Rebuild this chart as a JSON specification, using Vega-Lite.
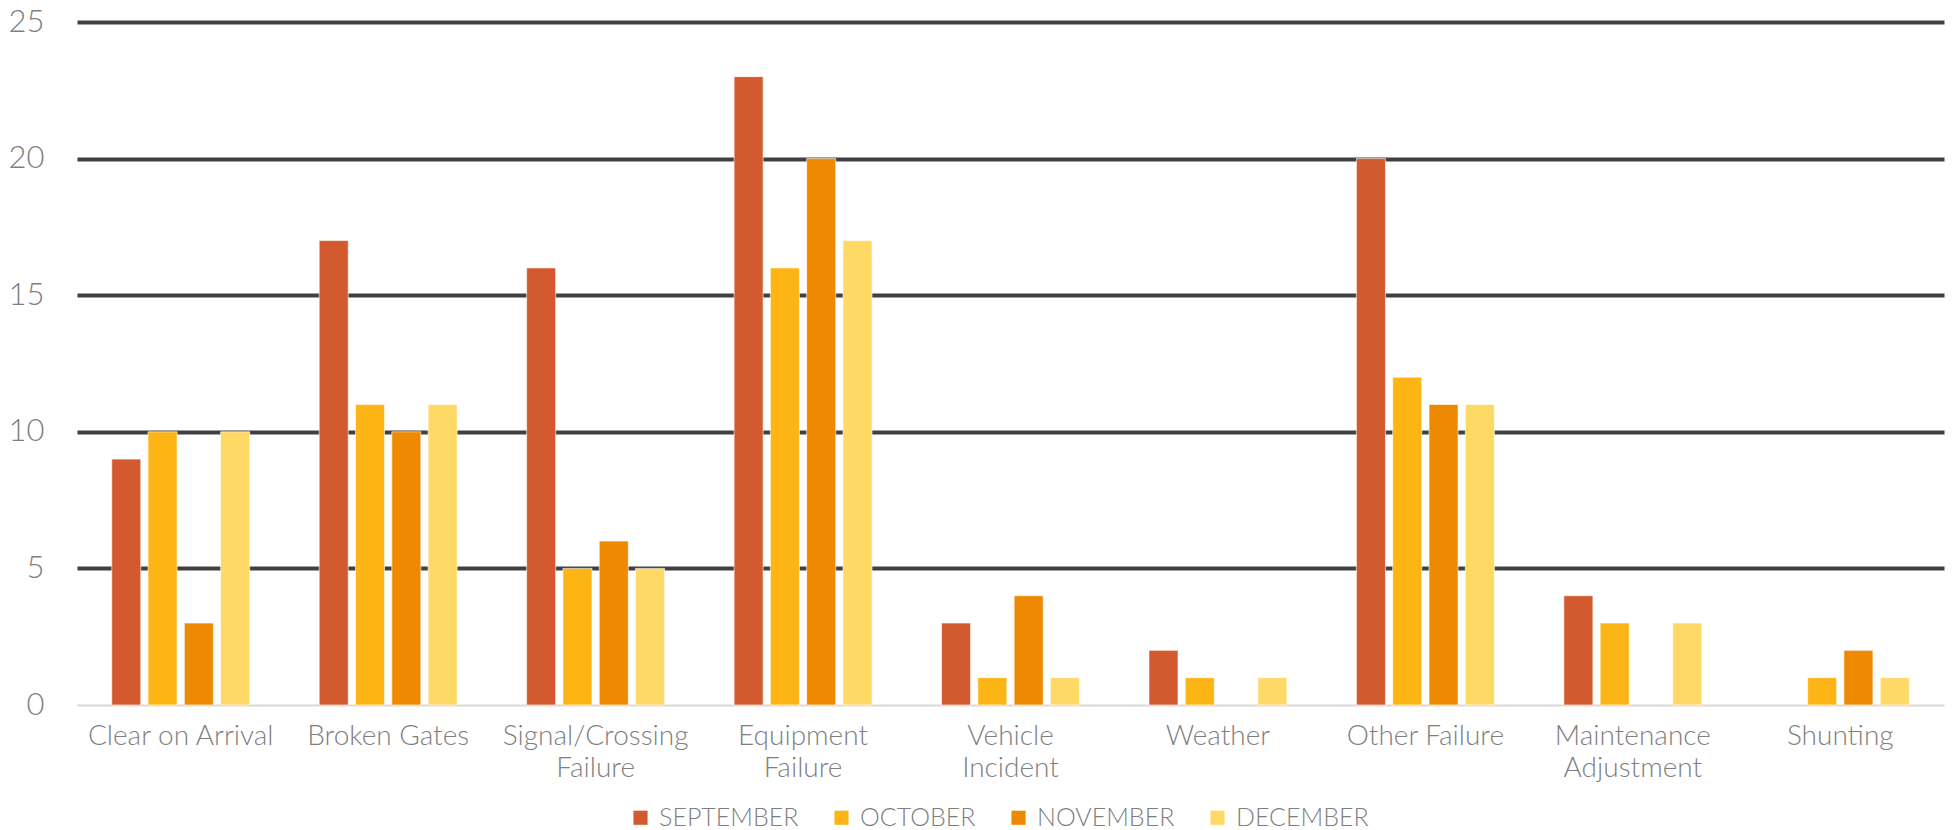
{
  "$schema": "https://vega.github.io/schema/vega-lite/v6.json",
  "autosize": {"type": "none"},
  "width": 1867,
  "height": 683,
  "padding": {"left": 77, "top": 22, "right": 10, "bottom": 125},
  "background": "#ffffff",
  "config": {
    "view": {"stroke": null},
    "font": "Lato"
  },
  "data": {
    "values": [
      {"category": "Clear on Arrival", "month": "SEPTEMBER", "count": 9},
      {"category": "Clear on Arrival", "month": "OCTOBER", "count": 10},
      {"category": "Clear on Arrival", "month": "NOVEMBER", "count": 3},
      {"category": "Clear on Arrival", "month": "DECEMBER", "count": 10},
      {"category": "Broken Gates", "month": "SEPTEMBER", "count": 17},
      {"category": "Broken Gates", "month": "OCTOBER", "count": 11},
      {"category": "Broken Gates", "month": "NOVEMBER", "count": 10},
      {"category": "Broken Gates", "month": "DECEMBER", "count": 11},
      {"category": "Signal/Crossing Failure", "month": "SEPTEMBER", "count": 16},
      {"category": "Signal/Crossing Failure", "month": "OCTOBER", "count": 5},
      {"category": "Signal/Crossing Failure", "month": "NOVEMBER", "count": 6},
      {"category": "Signal/Crossing Failure", "month": "DECEMBER", "count": 5},
      {"category": "Equipment Failure", "month": "SEPTEMBER", "count": 23},
      {"category": "Equipment Failure", "month": "OCTOBER", "count": 16},
      {"category": "Equipment Failure", "month": "NOVEMBER", "count": 20},
      {"category": "Equipment Failure", "month": "DECEMBER", "count": 17},
      {"category": "Vehicle Incident", "month": "SEPTEMBER", "count": 3},
      {"category": "Vehicle Incident", "month": "OCTOBER", "count": 1},
      {"category": "Vehicle Incident", "month": "NOVEMBER", "count": 4},
      {"category": "Vehicle Incident", "month": "DECEMBER", "count": 1},
      {"category": "Weather", "month": "SEPTEMBER", "count": 2},
      {"category": "Weather", "month": "OCTOBER", "count": 1},
      {"category": "Weather", "month": "DECEMBER", "count": 1},
      {"category": "Other Failure", "month": "SEPTEMBER", "count": 20},
      {"category": "Other Failure", "month": "OCTOBER", "count": 12},
      {"category": "Other Failure", "month": "NOVEMBER", "count": 11},
      {"category": "Other Failure", "month": "DECEMBER", "count": 11},
      {"category": "Maintenance Adjustment", "month": "SEPTEMBER", "count": 4},
      {"category": "Maintenance Adjustment", "month": "OCTOBER", "count": 3},
      {"category": "Maintenance Adjustment", "month": "DECEMBER", "count": 3},
      {"category": "Shunting", "month": "OCTOBER", "count": 1},
      {"category": "Shunting", "month": "NOVEMBER", "count": 2},
      {"category": "Shunting", "month": "DECEMBER", "count": 1}
    ]
  },
  "mark": {"type": "bar", "stroke": "#ffffff", "strokeWidth": 1, "strokeOpacity": 0.6},
  "encoding": {
    "x": {
      "field": "category",
      "type": "nominal",
      "sort": ["Clear on Arrival", "Broken Gates", "Signal/Crossing Failure", "Equipment Failure", "Vehicle Incident", "Weather", "Other Failure", "Maintenance Adjustment", "Shunting"],
      "scale": {"paddingInner": 0.3, "paddingOuter": 0.15},
      "axis": {
        "title": null,
        "labelAngle": 0,
        "domain": false,
        "ticks": false,
        "labelPadding": 17,
        "labelLimit": 400,
        "labelOverlap": false,
        "labelFont": "Lato",
        "labelFontWeight": 300,
        "labelFontSize": 28,
        "labelColor": "#7f7f7f",
        "labelLineHeight": 32,
        "labelBaseline": "top",
        "labelExpr": "indexof(['Signal/Crossing Failure','Equipment Failure','Vehicle Incident','Maintenance Adjustment'], datum.label) >= 0 ? split(datum.label, ' ') : datum.label"
      }
    },
    "xOffset": {
      "field": "month",
      "type": "nominal",
      "scale": {"domain": ["SEPTEMBER", "OCTOBER", "NOVEMBER", "DECEMBER"], "paddingInner": 0.2, "paddingOuter": 0.1}
    },
    "y": {
      "field": "count",
      "type": "quantitative",
      "scale": {"domain": [0, 25], "nice": false},
      "axis": {
        "title": null,
        "values": [0, 5, 10, 15, 20, 25],
        "domain": false,
        "ticks": false,
        "labelPadding": 33,
        "labelFont": "Lato",
        "labelFontWeight": 300,
        "labelFontSize": 31,
        "labelColor": "#7f7f7f",
        "grid": true,
        "gridColor": {"condition": {"test": "datum.value === 0", "value": "#d9d9d9"}, "value": "#404040"},
        "gridWidth": {"condition": {"test": "datum.value === 0", "value": 2}, "value": 4}
      }
    },
    "color": {
      "field": "month",
      "type": "nominal",
      "scale": {
        "domain": ["SEPTEMBER", "OCTOBER", "NOVEMBER", "DECEMBER"],
        "range": ["#D35A2F", "#FDB515", "#EE8A02", "#FED966"]
      },
      "legend": {
        "title": null,
        "orient": "none",
        "direction": "horizontal",
        "legendX": 551,
        "legendY": 783,
        "symbolType": "square",
        "symbolSize": 200,
        "symbolStrokeWidth": 0,
        "labelFont": "Lato",
        "labelFontWeight": 300,
        "labelFontSize": 25,
        "labelColor": "#7f7f7f",
        "labelOffset": 6,
        "columnPadding": 30
      }
    }
  }
}
